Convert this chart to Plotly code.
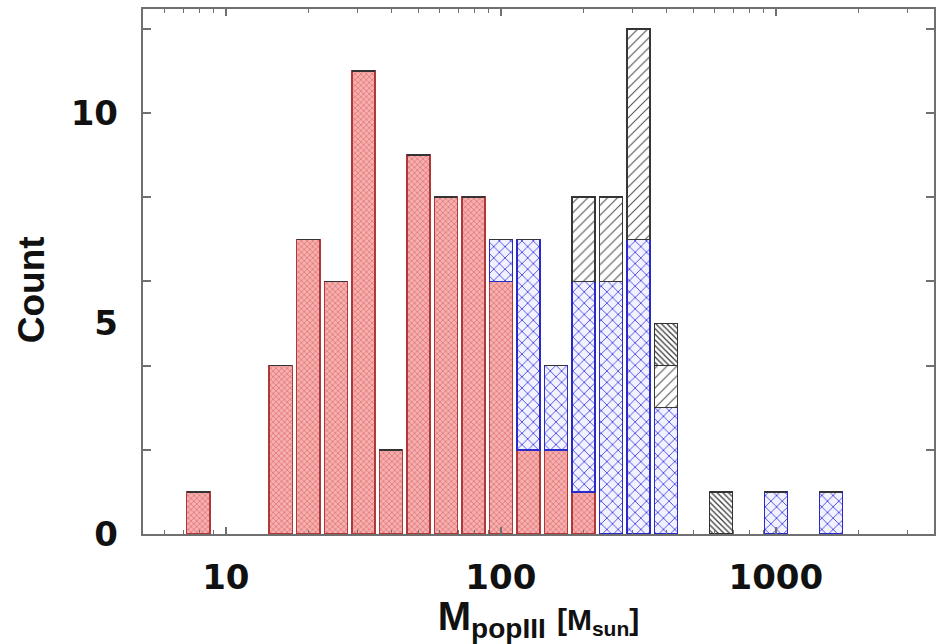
import plotly.graph_objects as go

# Bin centres in log10(M_popIII / M_sun), 0.1 dex bins
log_bin_centers = [0.9, 1.2, 1.3, 1.4, 1.5, 1.6, 1.7, 1.8, 1.9, 2.0,
                   2.1, 2.2, 2.3, 2.4, 2.5, 2.6, 2.8, 3.0, 3.2]
bin_width_dex = 0.1

# Stacked counts per bin (bottom to top)
count_red = [1, 4, 7, 6, 11, 2, 9, 8, 8, 6, 2, 2, 1, 0, 0, 0, 0, 0, 0]
count_blue = [0, 0, 0, 0, 0, 0, 0, 0, 0, 1, 5, 2, 5, 6, 7, 3, 0, 1, 1]
count_black = [0, 0, 0, 0, 0, 0, 0, 0, 0, 0, 0, 0, 2, 2, 5, 1, 0, 0, 0]
count_dark = [0, 0, 0, 0, 0, 0, 0, 0, 0, 0, 0, 0, 0, 0, 0, 1, 1, 0, 0]

y_tick_marks = [0, 2, 4, 6, 8, 10, 12]
y_tick_labels = [0, 5, 10]
x_tick_vals = [10, 100, 1000]
x_tick_text = ["10", "100", "1000"]

# bar geometry on the log axis (bars fill ~84% of each log bin)
fill_frac = 0.84
half = bin_width_dex * fill_frac / 2
mass_bins = [10 ** c for c in log_bin_centers]
bar_offsets = [10 ** (c - half) - 10 ** c for c in log_bin_centers]
bar_widths = [10 ** (c + half) - 10 ** (c - half) for c in log_bin_centers]

series = [
    (count_red, "#f6b0b0", "#d24a4a", "#b03838", "x", 4, 0.22),
    (count_blue, "#f2f2ff", "#3b3be2", "#2a2ac8", "x", 8, 0.2),
    (count_black, "#ffffff", "#505050", "#383838", "/", 7, 0.15),
    (count_dark, "#ffffff", "#333333", "#333333", "\\", 4, 0.3),
]

fig = go.Figure()
for vals, bg, fg, line, shape, size, sol in series:
    fig.add_trace(go.Bar(
        x=mass_bins, y=vals, offset=bar_offsets, width=bar_widths,
        marker=dict(
            color=bg,
            line=dict(color=line, width=1.5),
            pattern=dict(shape=shape, fgcolor=fg, bgcolor=bg, size=size,
                         solidity=sol, fillmode="replace"),
        ),
        showlegend=False,
    ))

axis_line = "#707070"
tick_font = dict(family="DejaVu Sans", size=34, weight="bold", color="#111111")
fig.update_layout(
    width=936, height=644,
    margin=dict(l=143, r=0, t=9, b=110),
    barmode="stack",
    plot_bgcolor="white", paper_bgcolor="white",
    font=dict(family="Liberation Sans", color="#111111"),
    xaxis=dict(
        type="log", range=[0.699, 3.575],
        tickvals=x_tick_vals, ticktext=x_tick_text,
        ticks="inside", ticklen=7, tickwidth=1.5, tickcolor=axis_line,
        minor=dict(ticks="inside", ticklen=4, tickwidth=1.2, tickcolor=axis_line,
                   dtick="D1", showgrid=False),
        showline=True, linecolor=axis_line, linewidth=1.5, mirror="ticks",
        showgrid=False, zeroline=False,
        tickfont=tick_font,
        ticklabelstandoff=12,
        title=dict(text="M<sub>popIII</sub> <span style='font-size:30px'>[M<sub>sun</sub>]</span>",
                   font=dict(size=40, weight="bold", color="#111111"), standoff=8),
    ),
    yaxis=dict(
        range=[0, 12.47], tickvals=y_tick_marks, showticklabels=False,
        ticks="inside", ticklen=8, tickwidth=1.5, tickcolor=axis_line,
        showline=True, linecolor=axis_line, linewidth=1.5, mirror="ticks",
        showgrid=False, zeroline=False,
    ),
    yaxis2=dict(
        overlaying="y", side="left", range=[0, 12.47],
        tickvals=y_tick_labels, ticks="", showline=False, showgrid=False,
        zeroline=False, ticklabelstandoff=24,
        tickfont=tick_font,
    ),
    annotations=[dict(
        text="Count", xref="paper", yref="paper",
        x=(31 - 143) / 793, y=(534 - 290) / 525,
        xanchor="center", yanchor="middle", textangle=-90, showarrow=False,
        font=dict(size=37, weight="bold", color="#111111"),
    )],
)
# invisible anchor trace so yaxis2 is drawn
fig.add_trace(go.Scatter(x=[mass_bins[0]], y=[0], yaxis="y2", mode="markers",
                         marker=dict(opacity=0), showlegend=False, hoverinfo="skip"))

fig.write_html("out.html")
